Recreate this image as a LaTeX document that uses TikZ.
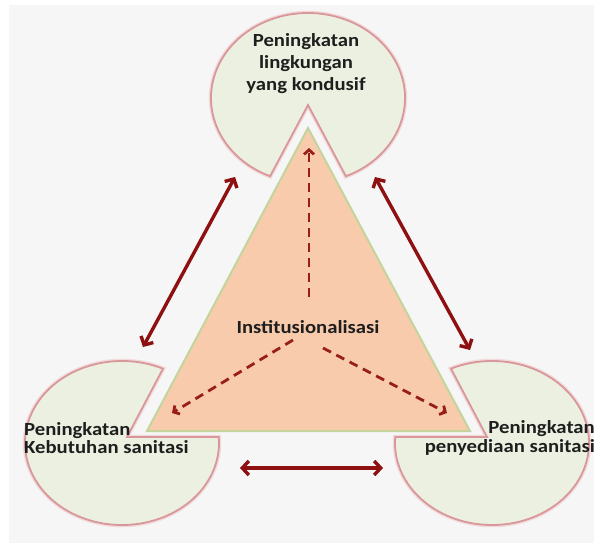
\documentclass[tikz,border=0pt]{standalone}
\usepackage{fontspec}
\setmainfont{Carlito}[FakeStretch=1.12]
\usetikzlibrary{arrows.meta}
\definecolor{bggray}{HTML}{F6F6F6}
\definecolor{pacfill}{HTML}{EBF0E0}
\definecolor{pacline}{HTML}{D8979A}
\definecolor{pacglow}{HTML}{F3D9DA}
\definecolor{trifill}{HTML}{F8CBAD}
\definecolor{triline}{HTML}{C3D59C}
\definecolor{arrowred}{HTML}{8E1010}
\definecolor{dashred}{HTML}{981E1A}
\definecolor{txt}{HTML}{1E1E1E}
\begin{document}
\begin{tikzpicture}[x=1pt,y=1pt,
  pac/.style={fill=pacfill, draw=pacline, line width=1.8pt, line join=miter,
    preaction={draw=pacglow, line width=4.5pt}},
  tri/.style={fill=trifill, draw=triline, line width=2pt, line join=miter},
  dbl/.style={draw=arrowred, line width=3.4pt,
    {Straight Barb[length=6.5pt,width=14pt]}-{Straight Barb[length=6.5pt,width=14pt]}},
  dsh/.style={draw=dashred, line width=2.8pt, dash pattern=on 9pt off 6pt,
    -{Straight Barb[length=4.5pt,width=10pt]}},
  lbl/.style={inner sep=0pt, text=txt, font=\fontsize{18.5}{22}\selectfont\bfseries}
]
\useasboundingbox (0,0) rectangle (594,-543);
\fill[white] (0,0) rectangle (594,-543);
\fill[bggray] (9,-5) rectangle (594,-543);

% top pie
\draw[pac, shift={(308,-98)}] (-67:97pt and 85pt)
  arc[start angle=-67, end angle=247, x radius=97pt, y radius=85pt]
  -- (0,-7) -- cycle;
% bottom-left pie
\draw[pac, shift={(122,-443)}] (65:97pt and 82pt)
  arc[start angle=65, end angle=364.2, x radius=97pt, y radius=82pt]
  -- (5,6) -- cycle;
% bottom-right pie
\draw[pac, shift={(492,-443)}] (175.8:97pt and 82pt)
  arc[start angle=175.8, end angle=475, x radius=97pt, y radius=82pt]
  -- (-5,6) -- cycle;

% triangle
\coordinate (T) at (308,-128);
\coordinate (BLv) at (147,-431);
\coordinate (BRv) at (470,-431);
\draw[tri] (T) -- (BLv) -- (BRv) -- cycle;

% labels
\node[lbl, align=center] (top) at (306,-63.5) {Peningkatan\\lingkungan\\yang kondusif};
\node[lbl, align=left, anchor=west, font=\fontsize{18.5}{18.5}\selectfont\bfseries] (left) at (24,-438) {Peningkatan\\Kebutuhan sanitasi};
\node[lbl, align=right, anchor=east, font=\fontsize{18.5}{18.5}\selectfont\bfseries] (right) at (595,-438) {Peningkatan\\penyediaan sanitasi};
\node[lbl] (inst) at (308,-327) {Institusionalisasi};

% solid double arrows
\coordinate (LA1) at (235,-177); \coordinate (LA2) at (143,-347);
\coordinate (RA1) at (375,-177); \coordinate (RA2) at (470,-350);
\coordinate (BA1) at (240,-468); \coordinate (BA2) at (383,-468);
\draw[dbl] (LA1) -- (LA2);
\draw[dbl] (RA1) -- (RA2);
\draw[dbl] (BA1) -- (BA2);

% dashed arrows
\coordinate (dc1) at (309,-297); \coordinate (du) at (309,-148);
\coordinate (dc2) at (293,-340); \coordinate (dl) at (172,-413);
\coordinate (dc3) at (323,-348); \coordinate (dr) at (447,-413);
\draw[dsh] (dc1) -- (du);
\draw[dsh] (dc2) -- (dl);
\draw[dsh] (dc3) -- (dr);
\end{tikzpicture}
\end{document}
